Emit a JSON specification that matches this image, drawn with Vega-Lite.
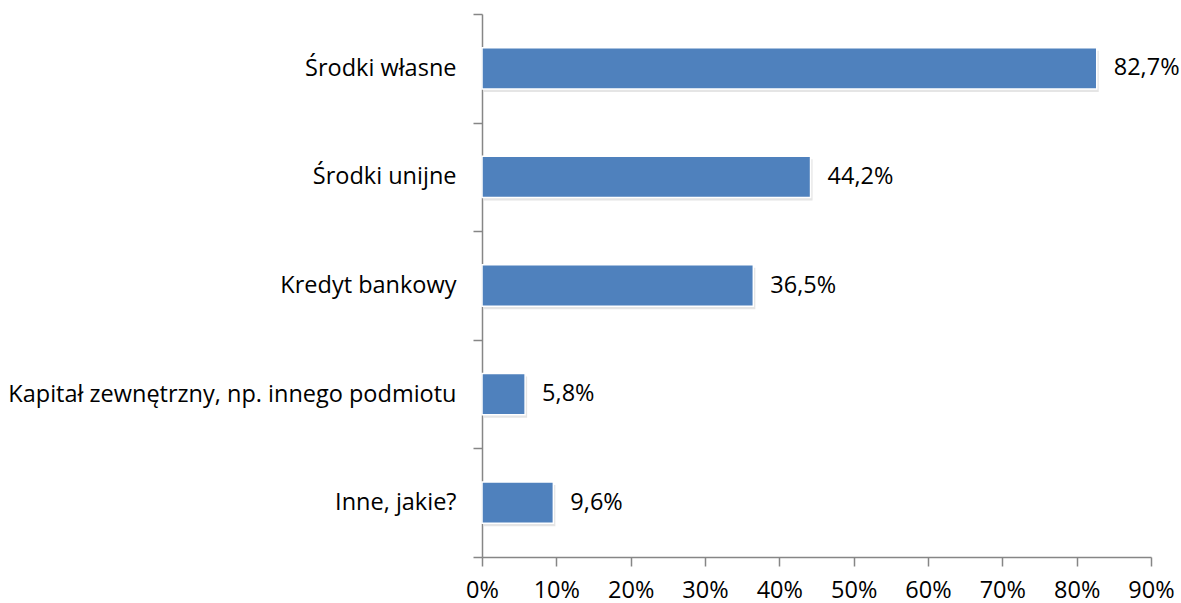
{
  "$schema": "https://vega.github.io/schema/vega-lite/v6.json",
  "width": 669,
  "height": 543,
  "autosize": {"type": "none"},
  "padding": {"left": 482, "top": 14, "right": 30, "bottom": 46},
  "background": "white",
  "config": {
    "view": {"stroke": null},
    "font": "Open Sans",
    "locale": {"number": {"decimal": ",", "thousands": " ", "grouping": [3], "currency": ["", " zł"]}}
  },
  "data": {
    "values": [
      {"kategoria": "Środki własne", "wartosc": 0.827},
      {"kategoria": "Środki unijne", "wartosc": 0.442},
      {"kategoria": "Kredyt bankowy", "wartosc": 0.365},
      {"kategoria": "Kapitał zewnętrzny, np. innego podmiotu", "wartosc": 0.058},
      {"kategoria": "Inne, jakie?", "wartosc": 0.096}
    ]
  },
  "encoding": {
    "y": {
      "field": "kategoria", "type": "nominal", "sort": null,
      "scale": {"paddingInner": 0, "paddingOuter": 0},
      "axis": {
        "title": null, "tickBand": "extent", "domainColor": "#868686", "domainWidth": 1.5,
        "tickColor": "#868686", "tickWidth": 1.5, "tickSize": 9, "labelPadding": 17,
        "labelFontSize": 23.5, "labelColor": "#000000", "labelFont": "Open Sans", "labelLimit": 600
      }
    },
    "x": {
      "field": "wartosc", "type": "quantitative",
      "scale": {"domain": [0, 0.9], "nice": false},
      "axis": {
        "title": null, "format": ".0%", "values": [0, 0.1, 0.2, 0.3, 0.4, 0.5, 0.6, 0.7, 0.8, 0.9],
        "grid": false, "domainColor": "#868686", "domainWidth": 1.5,
        "tickColor": "#868686", "tickWidth": 1.5, "tickSize": 9, "labelPadding": 12,
        "labelFlush": false, "labelOverlap": false, "labelBound": false,
        "labelFontSize": 23.5, "labelColor": "#000000", "labelFont": "Open Sans"
      }
    }
  },
  "layer": [
    {"mark": {"type": "bar", "color": "#d4d4d4", "opacity": 0.6, "yOffset": 3, "xOffset": 2, "height": {"band": 0.38}}},
    {"mark": {"type": "bar", "color": "#4F81BD", "stroke": "#ffffff", "strokeWidth": 1.5, "height": {"band": 0.38}}},
    {
      "mark": {"type": "text", "align": "left", "baseline": "middle", "dx": 17, "fontSize": 23.5, "font": "Open Sans", "color": "#000000"},
      "encoding": {"text": {"field": "wartosc", "type": "quantitative", "format": ".1%"}}
    }
  ]
}
